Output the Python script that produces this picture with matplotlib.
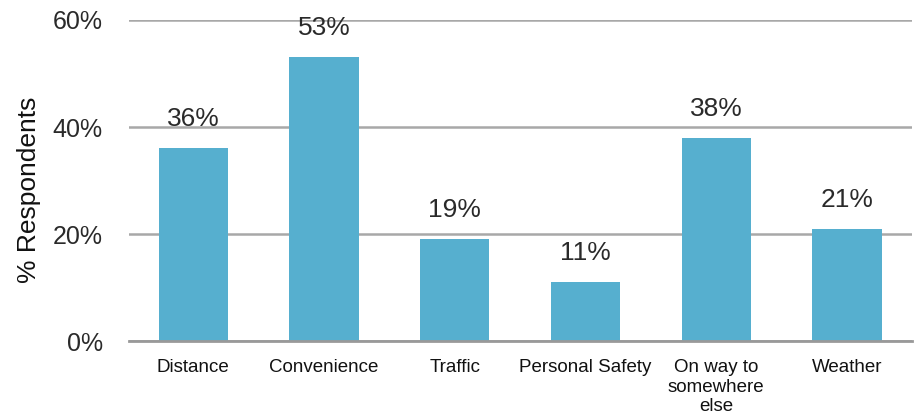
import matplotlib.pyplot as plt

categories = ['Distance', 'Convenience', 'Traffic', 'Personal Safety',
              'On way to\nsomewhere\nelse', 'Weather']
values = [36, 53, 19, 11, 38, 21]
yticks = [0, 20, 40, 60]

plt.rcParams['font.family'] = ['Liberation Sans', 'DejaVu Sans']

fig = plt.figure(figsize=(9.16, 4.16), dpi=100)
ax = fig.add_axes([0.141, 0.180, 0.855, 0.772])

x = range(len(categories))
ax.bar(x, values, width=0.53, color='#56AFCF', zorder=3)

for i, v in zip(x, values):
    ax.text(i, v + 3.2, f'{v}%', ha='center', va='bottom', fontsize=19, color='#2a2a2a')

ax.set_xlim(-0.49, 5.5)
ax.set_ylim(0, 60)
ax.set_yticks(yticks)
ax.set_yticklabels([f'{t}%' for t in yticks], fontsize=18, color='#2a2a2a')
ax.set_xticks(list(x))
ax.set_xticklabels(categories, fontsize=13.5, color='#111111', linespacing=1.2, va='top')
ax.tick_params(axis='y', length=0, pad=19)
ax.tick_params(axis='x', length=0, pad=13)

ax.grid(axis='y', color='#A8A8A8', linewidth=1.8, zorder=0)
ax.set_axisbelow(True)
for s in ['left', 'right', 'top']:
    ax.spines[s].set_visible(False)
ax.spines['bottom'].set_color('#999999')
ax.spines['bottom'].set_linewidth(2)
ax.spines['bottom'].set_zorder(4)

ax.set_ylabel('% Respondents', fontsize=19, color='#111111')
ax.yaxis.set_label_coords(-0.112, 0.47)

fig.savefig('out.png', dpi=100)
